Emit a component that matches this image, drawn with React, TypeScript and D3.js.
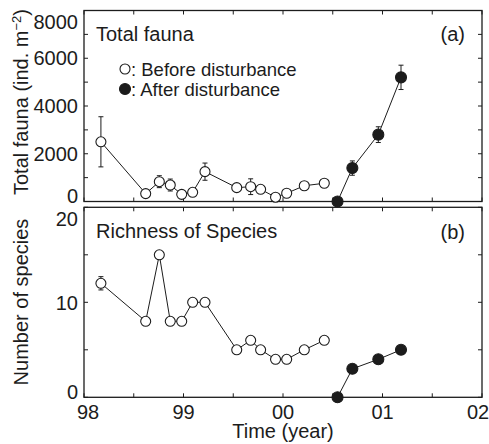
import React from "react";
import * as d3 from "d3";

// ---- Data ----
const beforeTime = [98.17, 98.62, 98.757, 98.867, 98.982, 99.092, 99.216, 99.535, 99.675, 99.775, 99.925, 100.037, 100.214, 100.415];
const afterTime = [100.548, 100.697, 100.958, 101.186];

const faunaBefore = [2500, 330, 830, 690, 300, 385, 1250, 580, 620, 510, 180, 345, 660, 765];
const faunaBeforeErr = [1050, 0, 250, 250, 0, 0, 360, 0, 330, 0, 0, 0, 0, 0];
const faunaAfter = [0, 1400, 2800, 5200];
const faunaAfterErr = [80, 300, 330, 510];

const richBefore = [12, 8, 15, 8, 8, 10, 10, 5, 6, 5, 4, 4, 5, 6];
const richBeforeErr = [0.7, 0, 0, 0, 0, 0, 0, 0, 0, 0, 0, 0, 0, 0];
const richAfter = [0, 3, 4, 5];
const richAfterErr = [0, 0, 0, 0];

const xTickValues = [98, 99, 100, 101, 102];
const xMinorTicks = [98.5, 99.5, 100.5, 101.5];
const faunaTicks = [0, 2000, 4000, 6000, 8000];
const faunaMinor = [1000, 3000, 5000, 7000];
const richTicks = [0, 10, 20];
const richMinor = [5, 15];

const FONT = "'Liberation Sans', Arial, Helvetica, sans-serif";
const INK = "#1c1c1c";

const left = 84;
const right = 482;
const x = d3.scaleLinear().domain([98, 102]).range([left, right]);
const yA = d3.scaleLinear().domain([0, 8000]).range([201.5, 10.5]);
const yB = d3.scaleLinear().domain([0, 20]).range([397.3, 207.3]);

const fmtYear = (d: number) => String(Math.round(d) % 100).padStart(2, "0");

type Scale = d3.ScaleLinear<number, number>;

function Frame({ y, major, minor }: { y: Scale; major: number[]; minor: number[] }) {
  const [y0, y1] = y.range();
  const top = Math.min(y0, y1);
  const bottom = Math.max(y0, y1);
  const tl = 4;
  const allY = [...major, ...minor];
  const allX = [...xTickValues, ...xMinorTicks];
  return (
    <g stroke={INK} fill="none">
      <rect x={left} y={top} width={right - left} height={bottom - top} strokeWidth={1.3} />
      {allY.map((v, i) => (
        <g key={"y" + i} strokeWidth={1}>
          <line x1={left} x2={left + tl} y1={y(v)} y2={y(v)} />
          <line x1={right} x2={right - tl} y1={y(v)} y2={y(v)} />
        </g>
      ))}
      {allX.map((v, i) => (
        <g key={"x" + i} strokeWidth={1}>
          <line x1={x(v)} x2={x(v)} y1={top} y2={top + tl} />
          <line x1={x(v)} x2={x(v)} y1={bottom} y2={bottom - tl} />
        </g>
      ))}
      {major.map((v, i) => {
        const cy = Math.min(Math.max(y(v), top + 11), bottom - 6);
        return (
          <text key={"l" + i} x={78} y={cy} dy="0.36em" textAnchor="end" fill={INK} stroke="none"
            fontFamily={FONT} fontSize={20}>
            {v}
          </text>
        );
      })}
    </g>
  );
}

function Series({ t, v, err, y, filled }: { t: number[]; v: number[]; err: number[]; y: Scale; filled: boolean }) {
  const line = d3.line<number>().x((_, i) => x(t[i])).y((d) => y(d));
  return (
    <g>
      <path d={line(v) || ""} fill="none" stroke={INK} strokeWidth={1} />
      {v.map((d, i) =>
        err[i] > 0 ? (
          <g key={"e" + i} stroke={INK} strokeWidth={1}>
            <line x1={x(t[i])} x2={x(t[i])} y1={y(d - err[i])} y2={y(d + err[i])} />
            <line x1={x(t[i]) - 2.5} x2={x(t[i]) + 2.5} y1={y(d - err[i])} y2={y(d - err[i])} />
            <line x1={x(t[i]) - 2.5} x2={x(t[i]) + 2.5} y1={y(d + err[i])} y2={y(d + err[i])} />
          </g>
        ) : null
      )}
      {v.map((d, i) => (
        <circle key={"c" + i} cx={x(t[i])} cy={y(d)} r={filled ? 5.5 : 5}
          fill={filled ? INK : "#fff"} stroke={INK} strokeWidth={1.1} />
      ))}
    </g>
  );
}

export default function App() {
  return (
    <svg width={489} height={444} style={{ display: "block", position: "absolute", left: 0, top: 0 }}
      fontFamily={FONT}>
      <rect x={0} y={0} width={489} height={444} fill="#fff" />
      {/* Panel a */}
      <Frame y={yA} major={faunaTicks} minor={faunaMinor} />
      <Series t={beforeTime} v={faunaBefore} err={faunaBeforeErr} y={yA} filled={false} />
      <Series t={afterTime} v={faunaAfter} err={faunaAfterErr} y={yA} filled={true} />
      <text x={96} y={41} fontSize={20} fill={INK}>Total fauna</text>
      <text x={465} y={41} fontSize={20} fill={INK} textAnchor="end">(a)</text>
      <circle cx={125} cy={69} r={5} fill="#fff" stroke={INK} strokeWidth={1.1} />
      <text x={131} y={75.5} fontSize={18.5} fill={INK}>: Before disturbance</text>
      <circle cx={125} cy={89} r={5.5} fill={INK} stroke={INK} strokeWidth={1.1} />
      <text x={131} y={95.5} fontSize={18.5} fill={INK}>: After disturbance</text>

      {/* Panel b */}
      <Frame y={yB} major={richTicks} minor={richMinor} />
      <Series t={beforeTime} v={richBefore} err={richBeforeErr} y={yB} filled={false} />
      <Series t={afterTime} v={richAfter} err={richAfterErr} y={yB} filled={true} />
      <text x={96} y={238} fontSize={20} fill={INK}>Richness of Species</text>
      <text x={465} y={239} fontSize={20} fill={INK} textAnchor="end">(b)</text>

      {/* X axis labels */}
      {xTickValues.map((v, i) => {
        const cx = Math.min(Math.max(x(v), left + 4), right - 4);
        return (
          <text key={i} x={cx} y={412} dy="0.36em" textAnchor="middle" fontSize={20} fill={INK}>
            {fmtYear(v)}
          </text>
        );
      })}
      <text x={283} y={438} textAnchor="middle" fontSize={20} fill={INK}>Time (year)</text>

      {/* Y axis titles */}
      <text transform="translate(27.5,102) rotate(-90)" textAnchor="middle" fontSize={20} fill={INK}>
        Total fauna (ind. m<tspan dy="-7" fontSize={13}>−2</tspan><tspan dy="7">)</tspan>
      </text>
      <text transform="translate(27.5,302) rotate(-90)" textAnchor="middle" fontSize={20} fill={INK}>
        Number of species
      </text>
    </svg>
  );
}
